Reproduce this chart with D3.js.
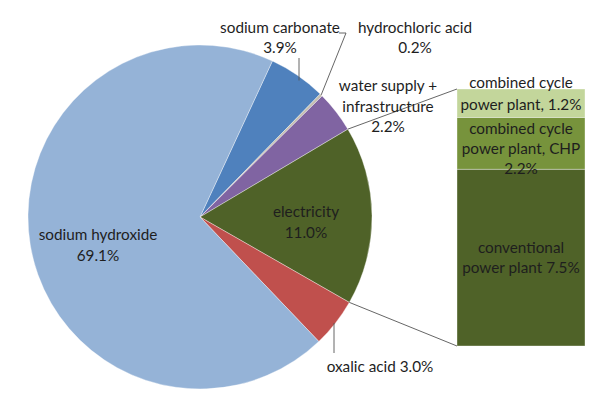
<!DOCTYPE html>
<html><head><meta charset="utf-8">
<script src="https://cdn.jsdelivr.net/npm/d3@7"></script>
<style>body{margin:0;background:#fff}svg{display:block}text{font-family:Lato,"Open Sans",sans-serif;fill:#1e1e1e}</style>
</head><body><div id="chart"></div>
<script>
// Pie slices (clockwise order, starting at sodium carbonate)
const sliceNames = ["sodium carbonate","hydrochloric acid","water supply + infrastructure","electricity","oxalic acid","sodium hydroxide"];
const sliceLabels = ["3.9%","0.2%","2.2%","11.0%","3.0%","69.1%"];
// angular shares as drawn in the picture
const sliceValues = [5.4, 0.25, 3.9, 16.8, 4.6, 69.05];
const sliceColors = ["#4F81BD","#C4BEB0","#8064A2","#4F6228","#C0504D","#95B3D7"];
// Breakdown bar (bottom to top)
const barNames = ["conventional power plant","combined cycle power plant, CHP","combined cycle power plant"];
const barValues = [7.5, 2.2, 1.2];
const barColors = ["#4F6228","#77933C","#C3D69B"];

const W = 616, H = 400;
const svg = d3.select("#chart").append("svg").attr("width", W).attr("height", H);
const cx = 200, cy = 217, R = 172;
const startDeg = 24.9;

const pie = d3.pie().sort(null).value(d => d)
  .startAngle(startDeg * Math.PI / 180).endAngle(startDeg * Math.PI / 180 + 2 * Math.PI);
const arcs = pie(sliceValues);
const arc = d3.arc().innerRadius(0).outerRadius(R);
const g = svg.append("g").attr("transform", `translate(${cx},${cy})`);
g.selectAll("path").data(arcs).join("path")
  .attr("d", arc).attr("fill", (d, i) => sliceColors[i])
  .attr("stroke", "#ffffff").attr("stroke-width", 0.6).attr("stroke-opacity", 0.6);

const pt = (a, r) => [cx + r * Math.sin(a), cy - r * Math.cos(a)];

// Bar
const bx = 457, bw = 128, bTop = 89, bBot = 346;
const total = d3.sum(barValues);
const y = d3.scaleLinear().domain([0, total]).range([bBot, bTop]);
let acc = 0;
const segs = barValues.map((v, i) => { const s = {v, i, y0: acc, y1: acc + v}; acc += v; return s; });
svg.append("g").selectAll("rect").data(segs).join("rect")
  .attr("x", bx).attr("width", bw)
  .attr("y", d => y(d.y1)).attr("height", d => y(d.y0) - y(d.y1))
  .attr("fill", d => barColors[d.i]).attr("stroke", "#ffffff").attr("stroke-width", 0.6).attr("stroke-opacity", 0.6);

// Connector lines from electricity slice edges to bar
const el = arcs[3];
const pA = pt(el.startAngle, R), pB = pt(el.endAngle, R);
const line = svg.append("g").attr("stroke", "#555").attr("stroke-width", 0.9).attr("fill", "none");
line.append("line").attr("x1", pA[0]).attr("y1", pA[1]).attr("x2", bx).attr("y2", y(total));
line.append("line").attr("x1", pB[0]).attr("y1", pB[1]).attr("x2", bx).attr("y2", y(0));

// Leader lines
const carbEdge = pt((arcs[0].startAngle + arcs[0].endAngle) / 2 + 0.05, R);
line.append("line").attr("x1", 299).attr("y1", 58).attr("x2", 299).attr("y2", carbEdge[1]);
const hcl = pt((arcs[1].startAngle + arcs[1].endAngle) / 2, R);
line.append("polyline").attr("points", `339,33 346,33 ${hcl[0]},${hcl[1]}`);
const ox = pt((arcs[4].startAngle + arcs[4].endAngle) / 2, R);
line.append("line").attr("x1", 334).attr("y1", ox[1]).attr("x2", 334).attr("y2", 353);

// Labels
const fs = 15.3;
function label(x, yb, lines, lh) {
  const t = svg.append("text").attr("text-anchor", "middle").attr("font-size", fs);
  lines.forEach((s, k) => t.append("tspan").attr("x", x).attr("y", yb + k * lh).text(s));
}
label(280, 33, ["sodium carbonate", sliceLabels[0]], 20);
label(415, 33, ["hydrochloric acid", sliceLabels[1]], 20);
label(388, 91, ["water supply +", "infrastructure", sliceLabels[2]], 20.5);
const ec = pt((el.startAngle + el.endAngle) / 2, 106);
label(ec[0], 217, [sliceNames[3], sliceLabels[3]], 21);
label(380, 372, [sliceNames[4] + " " + sliceLabels[4]], 20);
label(98, 240, [sliceNames[5], sliceLabels[5]], 21);

const bxc = bx + bw / 2;
label(bxc, 88, ["combined cycle", "power plant, " + barValues[2].toFixed(1) + "%"], 22);
label(bxc, 134, ["combined cycle", "power plant, CHP", barValues[1].toFixed(1) + "%"], 20);
label(bxc, 253, ["conventional", "power plant " + barValues[0].toFixed(1) + "%"], 20);
</script></body></html>
